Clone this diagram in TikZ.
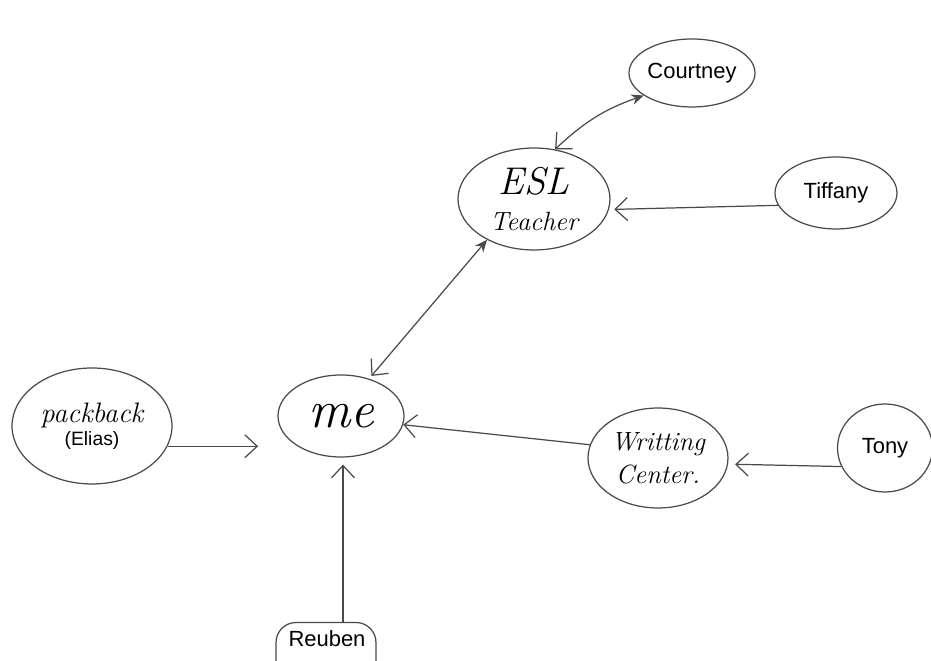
\documentclass[tikz,border=0pt]{standalone}
\usepackage{fontspec}
\setmainfont{Liberation Sans}
\newfontfamily\handfont{Latin Modern Roman}
\usetikzlibrary{shapes.geometric,arrows.meta}
\definecolor{pencil}{HTML}{4A4A4A}
\tikzset{
  bubble/.style={ellipse, draw=pencil, line width=0.7pt, inner sep=0pt, text=black},
  roundbox/.style={rectangle, rounded corners=0.4cm, draw=pencil, line width=0.7pt, inner sep=0pt},
  printed/.style={font=\fontsize{12.5}{15}\selectfont},
  hand/.style={font=\handfont\itshape\fontsize{15}{19}\selectfont},
  link/.style={draw=pencil, line width=0.7pt, -{Straight Barb[length=7pt,width=13pt]}},
  twoway/.style={draw=pencil, line width=0.7pt, {Straight Barb[length=7pt,width=13pt]}-{Stealth[length=7pt,width=6pt]}}
}
\begin{document}
\begin{tikzpicture}[x=0.02cm, y=-0.02cm]
  \useasboundingbox (0,0) rectangle (931,661);
  \clip (0,0) rectangle (931,661);
  \fill[white] (0,0) rectangle (931,661);

  % people and places
  \node[bubble, minimum width=2.3cm, minimum height=1.36cm, printed] (court) at (692,73) {Courtney};
  \node[bubble, minimum width=3.04cm, minimum height=2.04cm, hand, align=center] (esl) at (534,199)
    {{\fontsize{22}{24}\selectfont ESL}\\[2pt]Teacher};
  \node[bubble, minimum width=2.44cm, minimum height=1.44cm, printed] (tiff) at (836,193) {Tiffany};
  \node[bubble, minimum width=2.52cm, minimum height=1.64cm, hand, font=\handfont\itshape\fontsize{30}{32}\selectfont] (me) at (341,416) {me};
  \node[bubble, minimum width=3.2cm, minimum height=2.32cm, align=center] (pack) at (92,426)
    {{\handfont\itshape\fontsize{16}{18}\selectfont packback}\\[1pt]{\fontsize{11}{13}\selectfont(Elias)}};
  \node[bubble, minimum width=2.8cm, minimum height=2.0cm, hand, align=center] (wc) at (658,458)
    {Writting\\Center.};
  \node[bubble, minimum width=1.9cm, minimum height=1.76cm, printed] (tony) at (885,448) {Tony};
  \node[roundbox, minimum width=2.0cm, minimum height=1.3cm] (reub) at (326,655) {};
  \node[printed] (reubtext) at (327,639) {Reuben};

  % who talks to whom
  \draw[twoway] (esl.67) to[bend left=12] (court.205);
  \draw[link, shorten >=3pt] (tiff.192) -- (esl.352);
  \draw[twoway, shorten <=2pt] (me.53) -- (esl.221);
  \draw[link, shorten >=11pt] (pack.345) -- (pack.345 -| me.west);
  \draw[link] (wc.169) -- (me.352);
  \draw[link, shorten >=4pt] (tony.203) -- (wc.355);
  \coordinate (mebottom) at (me.south -| 343,0);
  \draw[link, shorten >=4pt] (reub.north -| mebottom) -- (mebottom);
\end{tikzpicture}
\end{document}
